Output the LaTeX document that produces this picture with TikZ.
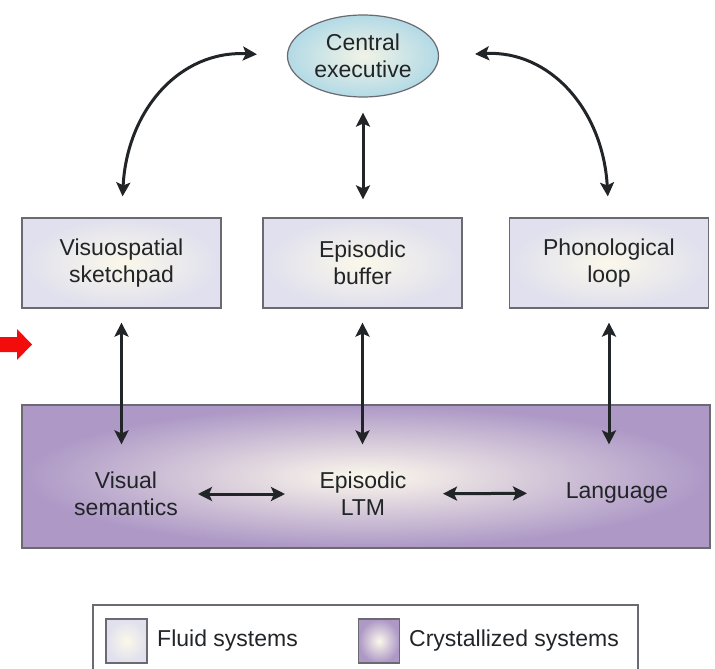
\documentclass[tikz,border=0pt]{standalone}
\usepackage{fontspec}
\setmainfont{Liberation Sans}
\usetikzlibrary{arrows.meta,shapes.geometric}
\definecolor{ink}{HTML}{222528}
\definecolor{edge}{HTML}{6A6A70}
\definecolor{fluidout}{HTML}{E0E0EE}
\definecolor{fluidin}{HTML}{FBF8EA}
\definecolor{crystout}{HTML}{AD98C6}
\definecolor{crystin}{HTML}{FCF8EC}
\definecolor{execout}{HTML}{B3DAE6}
\definecolor{execin}{HTML}{F1F3E6}
\definecolor{alert}{HTML}{F20C0C}
\tikzset{
  label text/.style={font=\fontsize{23}{27}\selectfont, text=ink, align=center},
  fluidbox/.style={label text, draw=edge, line width=1.2pt, shade,
    inner color=fluidin, outer color=fluidout,
    minimum width=199pt, minimum height=90pt},
  crystbox/.style={draw=edge, line width=1.2pt, shade,
    inner color=crystin, outer color=crystout,
    minimum width=688pt, minimum height=143pt},
  execnode/.style={label text, ellipse, draw=edge, line width=1.2pt, shade,
    inner color=execin, outer color=execout,
    minimum width=151pt, minimum height=82pt, inner sep=0pt},
  dbl/.style={{Stealth[length=14pt,width=14pt,inset=3pt]}-{Stealth[length=14pt,width=14pt,inset=3pt]},
    line width=3pt, draw=ink},
}
\begin{document}
\begin{tikzpicture}[x=1pt,y=-1pt]
\useasboundingbox (0,0) rectangle (715,669);

% working-memory components
\node[execnode] (ce) at (363,56) {Central\\executive};
\node[fluidbox] (vs) at (121.5,263) {Visuospatial\\sketchpad};
\node[fluidbox] (eb) at (362.5,263) {Episodic\\buffer};
\node[fluidbox] (pl) at (609,263) {Phonological\\loop};

% long-term stores
\node[crystbox] (ltm) at (366,476.5) {};
\node[label text] (vsem) at (126,494) {Visual\\semantics};
\node[label text] (eltm) at (363,494) {Episodic\\LTM};
\node[label text] (lang) at (617,493) {Language};

% executive links
\draw[dbl, shorten <=21pt, shorten >=30pt]
  (vs.north) .. controls (127,110) and (180,50) .. (ce.west);
\draw[dbl, shorten <=21pt, shorten >=36pt]
  (pl.north) .. controls (603,110) and (550,50) .. (ce.east);
\draw[dbl, shorten <=15pt, shorten >=18pt] (ce.south) -- (ce.south |- eb.north);

% links to long-term stores
\draw[dbl, shorten <=14pt, shorten >=-40pt] (vs.south) -- (vs.south |- ltm.north);
\draw[dbl, shorten <=14pt, shorten >=-40pt] (eb.south) -- (eb.south |- ltm.north);
\draw[dbl, shorten <=14pt, shorten >=-40pt] (pl.south) -- (pl.south |- ltm.north);
\draw[dbl, shorten <=72pt, shorten >=78pt] (vsem.center) -- (eltm.center);
\draw[dbl, shorten <=80pt, shorten >=90pt] (eltm.center) -- (lang.center);

% pointer in the margin
\fill[alert] (0,337) -- (17,337) -- (17,329) -- (32,344.5) -- (17,360) -- (17,352) -- (0,352) -- cycle;

% legend
\draw[edge, line width=1.2pt] (93,700) -- (93,605) -- (638,605) -- (638,700);
\node[draw=edge, line width=1.2pt, shade, inner color=fluidin, outer color=fluidout,
  minimum width=41pt, minimum height=44pt] (kf) at (126.5,641) {};
\node[label text, anchor=west, inner sep=0pt] (kft) at (157,641) {Fluid systems};
\node[draw=edge, line width=1.2pt, shade, inner color=crystin, outer color=crystout,
  minimum width=41pt, minimum height=44pt] (kc) at (379,641) {};
\node[label text, anchor=west, inner sep=0pt] (kct) at (409,641) {Crystallized systems};
\end{tikzpicture}
\end{document}
